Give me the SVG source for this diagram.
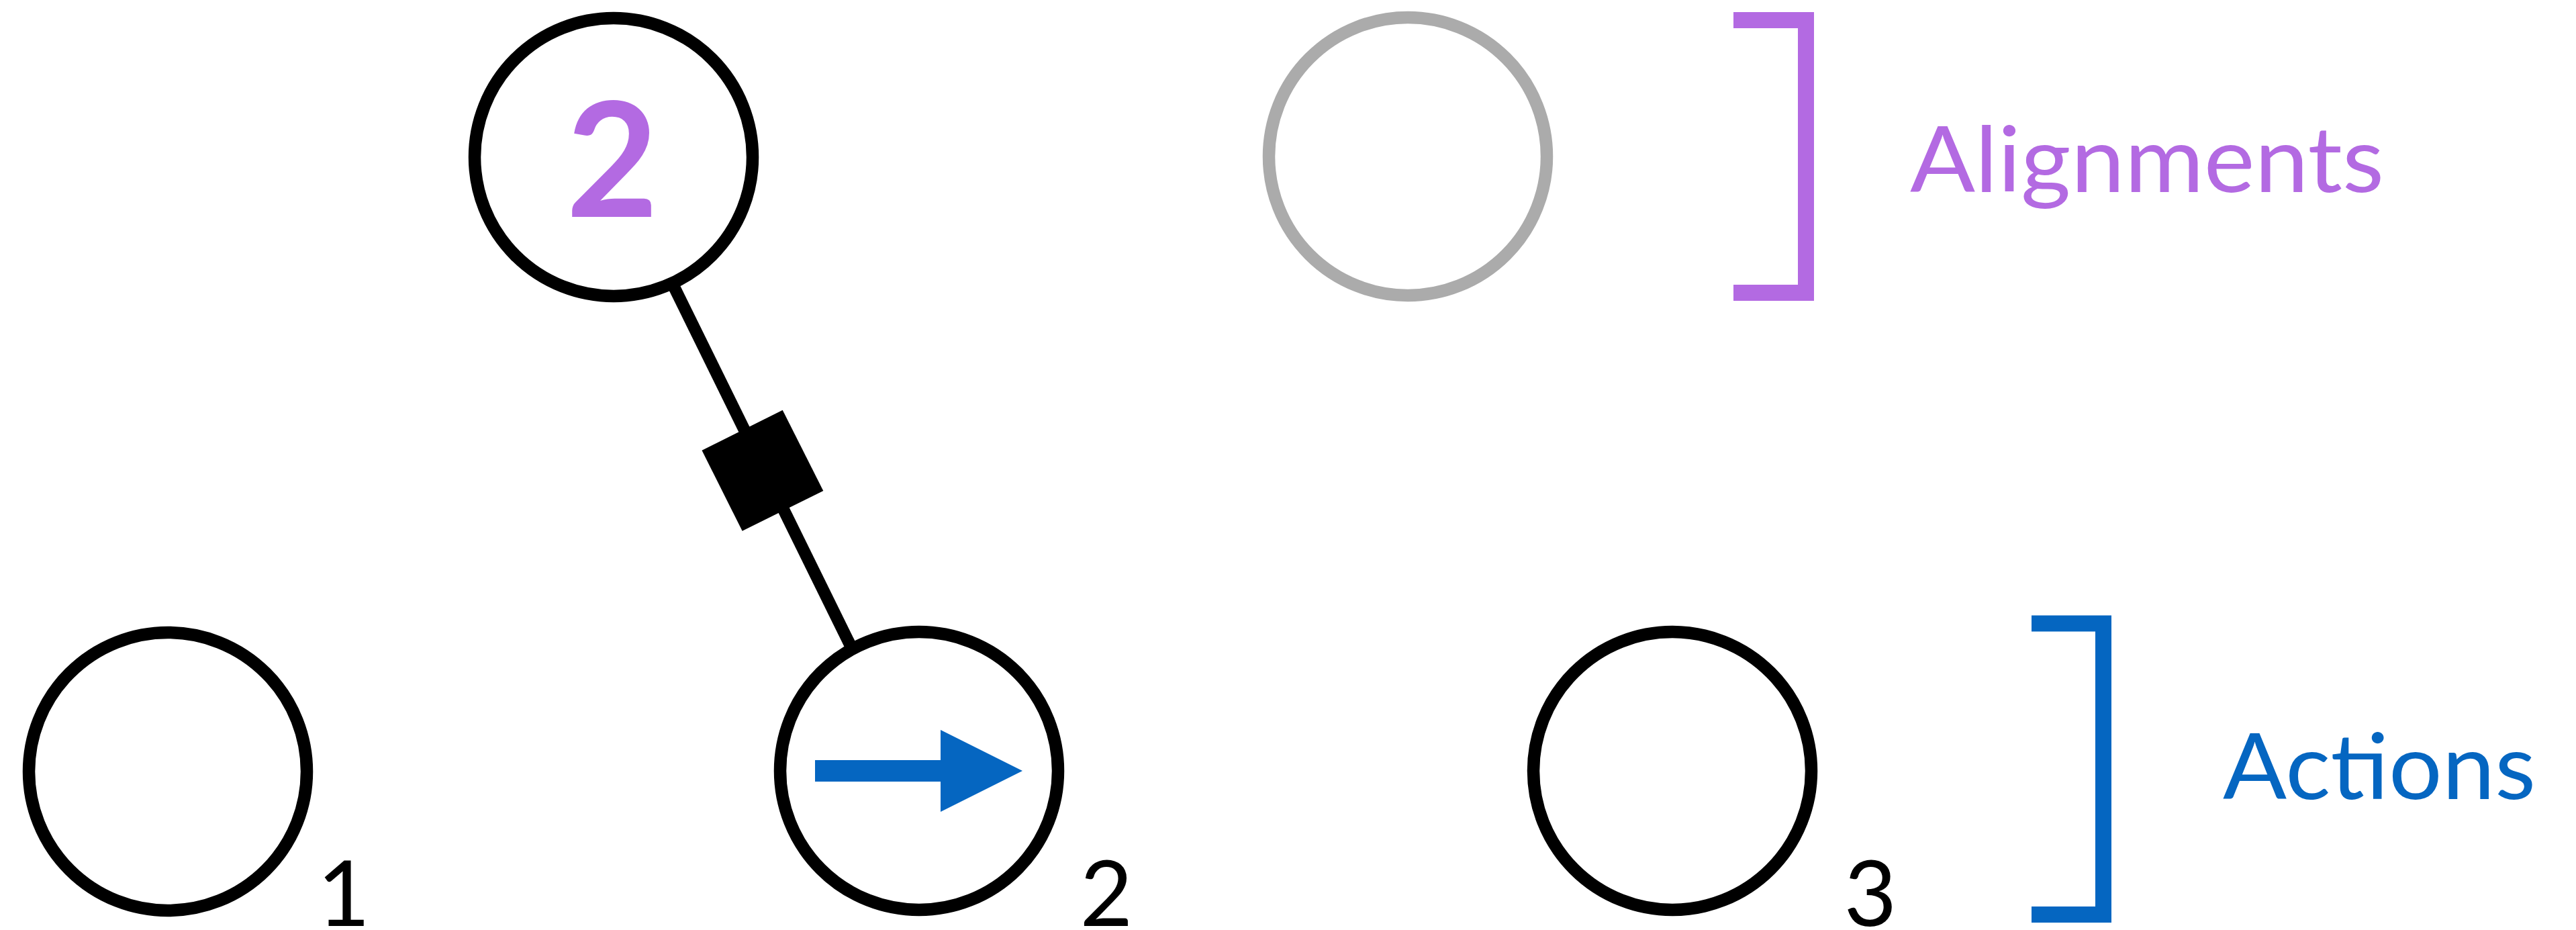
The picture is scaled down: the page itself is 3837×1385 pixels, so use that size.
<svg xmlns="http://www.w3.org/2000/svg" width="3837" height="1385" viewBox="0 0 3837 1385">
  <style>
    .node { fill: #ffffff; stroke: #000000; stroke-width: 18.5; }
    .ghost { fill: #ffffff; stroke: #ABABAB; stroke-width: 18.5; }
    .sub { font-family: Lato, "Liberation Sans", sans-serif; font-size: 136px; fill: #000000; text-anchor: middle; }
    .label { font-family: Lato, "Liberation Sans", sans-serif; font-size: 136px; }
    .edge { stroke: #000000; stroke-width: 18; fill: none; }
  </style>
  <rect x="0" y="0" width="3837" height="1385" fill="#ffffff"/>

  <g id="connectors">
    <line class="edge" x1="998" y1="415" x2="1270" y2="968"/>
    <polygon points="1045.5,670.7 1165.7,610.7 1226.3,731 1105.6,790.7" fill="#000000"/>
  </g>

  <g id="node-top">
    <circle class="node" cx="914" cy="234" r="207"/>
    <text x="912" y="323" font-family="Lato, 'Liberation Sans', sans-serif" font-weight="bold" font-size="237" fill="#B36AE2" text-anchor="middle">2</text>
  </g>

  <g id="node-ghost">
    <circle class="ghost" cx="2097" cy="233" r="207"/>
  </g>

  <g id="node-1">
    <circle class="node" cx="250" cy="1149" r="207"/>
    <text class="sub" x="512" y="1379">1</text>
  </g>

  <g id="node-2">
    <circle class="node" cx="1369" cy="1148" r="207"/>
    <polygon points="1214,1132 1401,1132 1401,1087 1523,1148 1401,1209 1401,1164 1214,1164" fill="#0566C1"/>
    <text class="sub" x="1648" y="1379">2</text>
  </g>

  <g id="node-3">
    <circle class="node" cx="2491" cy="1148" r="207"/>
    <text class="sub" x="2786" y="1379">3</text>
  </g>

  <g id="bracket-alignments">
    <path d="M2582,30 H2690 V436 H2582" fill="none" stroke="#B36AE2" stroke-width="24"/>
    <text class="label" x="2845" y="286" fill="#B36AE2" textLength="706" lengthAdjust="spacingAndGlyphs">Alignments</text>
  </g>

  <g id="bracket-actions">
    <path d="M3026,928.5 H3133 V1362 H3026" fill="none" stroke="#0566C1" stroke-width="24"/>
    <text class="label" x="3311" y="1190" fill="#0566C1" textLength="466" lengthAdjust="spacingAndGlyphs">Actions</text>
  </g>
</svg>
